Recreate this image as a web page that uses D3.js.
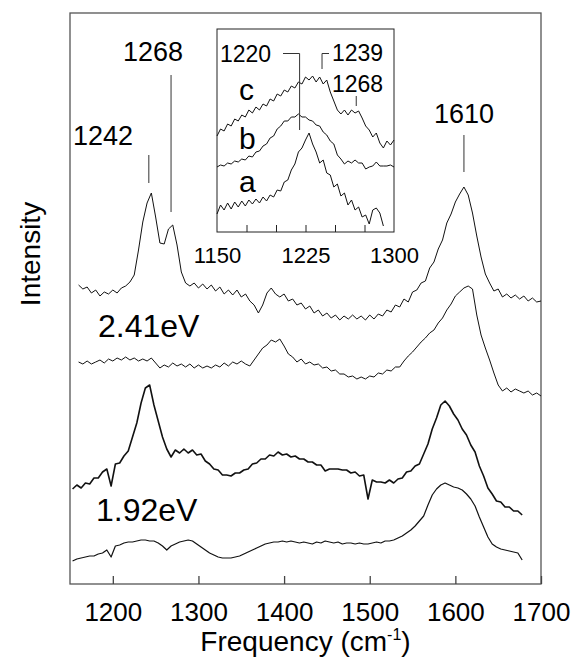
<!DOCTYPE html>
<html>
<head>
<meta charset="utf-8">
<script src="https://cdn.jsdelivr.net/npm/d3@7"></script>
<style>
body { margin: 0; background: #fff; }
svg { display: block; font-family: "Liberation Sans", Arial, Helvetica, sans-serif; }
</style>
</head>
<body>
<svg></svg>
<script>
const w = 575
const h = 663
const svg = d3.select("svg").attr("width", w).attr("height", h)

// main spectra, arbitrary intensity units (stacked with offsets as in the figure)
const s1Start = 1160, s1Step = 5
const spec241a = [299,295,297,291,294,288,292,290,294,291,296,298,302,309,334,362,381,391,367,341,
  340,355,359,339,312,301,298,301,296,300,295,299,293,297,290,294,289,294,287,290,
  283,279,271,279,291,296,290,287,290,283,285,279,281,275,278,271,274,268,271,266,
  269,264,268,265,269,265,268,264,269,265,270,268,274,272,279,277,285,282,292,294,
  301,303,316,322,335,344,361,370,382,390,397,389,371,348,327,310,301,293,295,287,
  290,286,289,285,288,283,286,282,283]
const spec241b = [222,220,223,220,222,224,221,225,223,226,224,227,224,226,223,225,223,226,221,216,
  219,217,221,218,220,217,220,216,219,216,218,216,219,217,221,218,222,220,223,220,
  218,224,230,236,239,244,242,245,238,230,227,222,225,220,222,219,220,216,217,213,
  214,210,210,207,208,205,207,205,208,207,211,210,214,213,217,217,223,228,232,237,
  242,246,251,254,261,266,274,280,288,292,296,298,295,269,249,236,224,211,199,193,
  196,192,195,193,191,193,189,191,188]

const s3Start = 1153, s3Step = 5
const spec192a = [95,99,96,101,100,106,106,112,115,98,120,121,128,133,147,161,181,196,199,179,
  163,147,135,127,134,131,135,131,134,129,130,123,120,115,114,109,109,108,111,111,
  114,115,120,121,125,125,129,128,132,129,130,127,128,125,125,122,122,119,119,113,
  115,115,115,114,114,111,112,108,109,85,104,102,102,101,104,101,105,106,112,113,
  118,120,130,140,155,166,179,183,178,170,164,155,149,139,132,118,108,96,90,83,
  82,77,77,73,73,69]
const spec192b = [23,25,26,27,28,28,30,31,34,27,38,39,41,42,42,43,44,44,43,43,
  41,38,34,38,40,42,43,44,43,40,37,34,31,29,27,26,26,26,27,28,
  30,32,34,36,38,40,41,42,42,43,42,43,42,41,42,41,40,42,41,43,
  42,41,42,40,41,41,40,41,40,40,41,42,41,43,43,44,46,48,51,54,
  58,63,68,79,89,95,99,101,99,97,96,94,90,85,78,67,57,47,40,37,
  35,34,33,32,31,24]

// inset spectra a, b, c
const inStart = 1150, inStep = 3
const insetA = [18,27,22,29,23,30,25,31,26,32,28,33,29,35,31,37,35,42,41,50,
  52,62,68,80,84,92,99,88,80,69,72,59,57,45,48,36,39,27,32,22,
  25,15,17,8,22,24,19,6]
const insetB = [65,67,66,69,68,71,70,73,72,76,75,80,81,86,88,94,96,103,106,111,
  111,115,115,118,115,115,112,111,107,106,100,97,91,88,77,73,68,71,69,72,
  69,69,63,65,66,70,66,66,66,67,65]
const insetC = [96,103,101,108,106,113,111,117,115,122,119,125,122,128,126,133,131,138,136,142,
  140,146,144,150,148,155,152,156,150,155,148,152,140,131,122,118,122,117,122,119,
  121,114,106,102,95,99,89,84,91,87,92]

const xTicks = [1200, 1300, 1400, 1500, 1600, 1700]
const insetTicks = [1175, 1200, 1225, 1250, 1275]
const insetTickLabels = [1150, 1225, 1300]
const mainPeaks = [1242, 1268, 1610]
const insetPeaks = [1220, 1239, 1268]

const toPairs = (start, step, vals) => vals.map((v, i) => [start + i * step, v])

const x = d3.scaleLinear().domain([1150, 1700]).range([70, 541])
const y = d3.scaleLinear().domain([0, 571]).range([584, 13])

const line = d3.line().x(d => x(d[0])).y(d => y(d[1]))

// frame
svg.append("rect")
  .attr("x", x(1150)).attr("y", y(571))
  .attr("width", x(1700) - x(1150)).attr("height", y(0) - y(571))
  .attr("fill", "none").attr("stroke", "#555").attr("stroke-width", 1.3)

const mainSpectra = [
  { data: toPairs(s1Start, s1Step, spec241a), sw: 1 },
  { data: toPairs(s1Start, s1Step, spec241b), sw: 1 },
  { data: toPairs(s3Start, s3Step, spec192a), sw: 1.6 },
  { data: toPairs(s3Start, s3Step, spec192b), sw: 1.2 }
]

svg.append("g").selectAll("path")
  .data(mainSpectra)
  .enter()
  .append("path")
  .attr("d", d => line(d.data))
  .attr("fill", "none")
  .attr("stroke", "#111")
  .attr("stroke-width", d => d.sw)
  .attr("stroke-linejoin", "round")

// bottom axis, ticks pointing inward
const xAxis = svg.append("g")
  .attr("transform", `translate(0,${y(0)})`)
  .call(d3.axisBottom(x).tickValues(xTicks).tickFormat(d3.format("d"))
    .tickSizeInner(-8).tickSizeOuter(0).tickPadding(19))
xAxis.select(".domain").remove()
xAxis.selectAll("line").attr("stroke", "#444").attr("stroke-width", 1.3)
xAxis.selectAll("text")
  .attr("font-size", 26)
  .attr("font-family", "Liberation Sans, Arial, sans-serif")
  .attr("fill", "#000")

// axis titles
const xTitle = svg.append("text")
  .attr("x", (x(1150) + x(1700)) / 2)
  .attr("y", 651)
  .attr("text-anchor", "middle")
  .attr("font-size", 28)
xTitle.append("tspan").text("Frequency (cm")
xTitle.append("tspan").attr("font-size", 16).attr("dy", -11).text("-1")
xTitle.append("tspan").attr("dy", 11).text(")")

svg.append("text")
  .attr("transform", "translate(40,254) rotate(-90)")
  .attr("text-anchor", "middle")
  .attr("font-size", 28)
  .text("Intensity")

// excitation labels
svg.append("text").attr("x", 98).attr("y", 337).attr("font-size", 32).text("2.41eV")
svg.append("text").attr("x", 96).attr("y", 521).attr("font-size", 32).text("1.92eV")

// peak markers on main panel
const peakMarks = [
  { tx: 103, ty: 145, y1: 155, y2: 183 },
  { tx: 153, ty: 61, y1: 75, y2: 212 },
  { tx: 464, ty: 123, y1: 135, y2: 172 }
]
peakMarks.forEach((p, i) => {
  svg.append("line")
    .attr("x1", x(mainPeaks[i])).attr("x2", x(mainPeaks[i]))
    .attr("y1", p.y1).attr("y2", p.y2)
    .attr("stroke", "#555").attr("stroke-width", 1.2)
  svg.append("text")
    .attr("x", p.tx).attr("y", p.ty)
    .attr("text-anchor", "middle")
    .attr("font-size", 27)
    .text(mainPeaks[i])
})

// inset
const ix = d3.scaleLinear().domain([1150, 1300]).range([217, 394])
const iy = d3.scaleLinear().domain([0, 203]).range([232, 29])
const iline = d3.line().x(d => ix(d[0])).y(d => iy(d[1]))

svg.append("rect")
  .attr("x", ix(1150)).attr("y", iy(203))
  .attr("width", ix(1300) - ix(1150)).attr("height", iy(0) - iy(203))
  .attr("fill", "#fff").attr("stroke", "#222").attr("stroke-width", 1)

const insetSpectra = [insetA, insetB, insetC]
svg.append("g").selectAll("path")
  .data(insetSpectra)
  .enter()
  .append("path")
  .attr("d", d => iline(toPairs(inStart, inStep, d)))
  .attr("fill", "none")
  .attr("stroke", "#111")
  .attr("stroke-width", 1)
  .attr("stroke-linejoin", "round")

const iTicks = svg.append("g")
  .attr("transform", `translate(0,${iy(0)})`)
  .call(d3.axisBottom(ix).tickValues(insetTicks).tickSizeInner(-7).tickSizeOuter(0).tickFormat(""))
iTicks.select(".domain").remove()
iTicks.selectAll("line").attr("stroke", "#222")

const iLabels = svg.append("g")
  .attr("transform", `translate(0,${iy(0)})`)
  .call(d3.axisBottom(ix).tickValues(insetTickLabels).tickFormat(d3.format("d"))
    .tickSize(0).tickPadding(15))
iLabels.select(".domain").remove()
iLabels.selectAll("text")
  .attr("font-size", 22)
  .attr("font-family", "Liberation Sans, Arial, sans-serif")
  .attr("fill", "#000")

// a, b, c labels
const curveNames = ["a", "b", "c"]
const curveLabelY = [192, 149, 100]
curveNames.forEach((n, i) => {
  svg.append("text").attr("x", 239).attr("y", curveLabelY[i]).attr("font-size", 30).text(n)
})

// inset peak brackets
svg.append("path")
  .attr("d", `M283,53.5H${ix(insetPeaks[0])}V130`)
  .attr("fill", "none").attr("stroke", "#333").attr("stroke-width", 1)
svg.append("path")
  .attr("d", `M329,53.5H${ix(insetPeaks[1])}V69`)
  .attr("fill", "none").attr("stroke", "#333").attr("stroke-width", 1)
svg.append("path")
  .attr("d", `M${ix(insetPeaks[2])},96V106`)
  .attr("fill", "none").attr("stroke", "#333").attr("stroke-width", 1)

const insetPeakText = [
  { tx: 220, ty: 62 },
  { tx: 332, ty: 61 },
  { tx: 332, ty: 92 }
]
insetPeakText.forEach((p, i) => {
  svg.append("text").attr("x", p.tx).attr("y", p.ty).attr("font-size", 23).text(insetPeaks[i])
})
</script>
</body>
</html>
